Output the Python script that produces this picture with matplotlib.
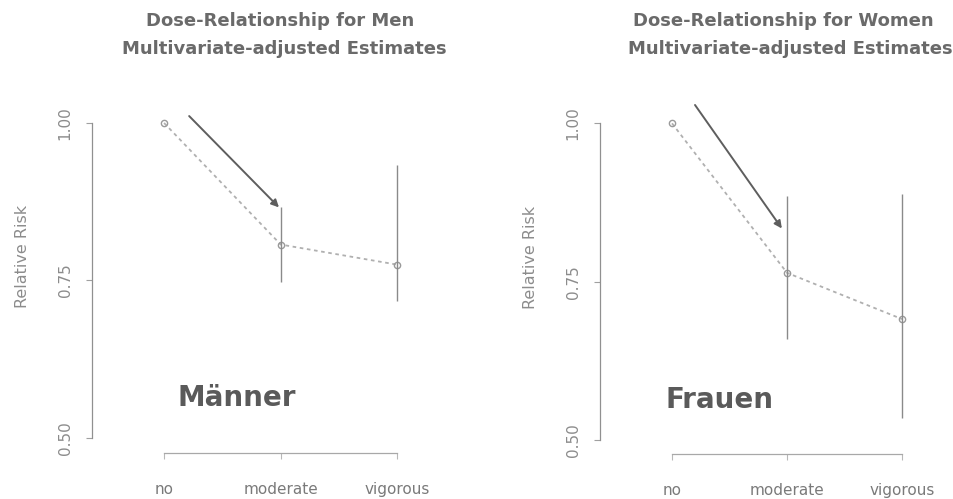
import numpy as np
import matplotlib.pyplot as plt

plt.rcParams['font.family'] = ['DejaVu Sans']

# Relative risk by activity level, multivariate-adjusted
levels = ["no", "moderate", "vigorous"]
x_pos = [1, 2, 3]

men_rr = [1.00, 0.807, 0.775]
men_lo = [np.nan, 0.747, 0.717]
men_hi = [np.nan, 0.866, 0.933]

women_rr = [1.00, 0.764, 0.691]
women_lo = [np.nan, 0.659, 0.535]
women_hi = [np.nan, 0.886, 0.888]

# arrow pointing at the upper limit of the moderate estimate
men_arrow = [(1.215, 1.011), (1.985, 0.866)]
women_arrow = [(1.20, 1.029), (1.955, 0.834)]

W, H = 954, 499
fig = plt.figure(figsize=(W / 100, H / 100), dpi=100)


def make_axes(px_left, px_top, px_right, px_bottom, xlim, ylim):
    ax = fig.add_axes([px_left / W, 1 - px_bottom / H,
                       (px_right - px_left) / W, (px_bottom - px_top) / H])
    ax.set_xlim(*xlim)
    ax.set_ylim(*ylim)
    return ax


def draw_panel(ax, rr, lo, hi, arrow, titles, title_xs, label, label_xy):
    grey = '#8a8a8a'
    ax.plot(x_pos, rr, linestyle=(0, (2, 2)), color='#b0b0b0', lw=1.3,
            marker='o', mfc='none', mec='#9a9a9a', ms=4.5, mew=1.0)
    for x, l, h in zip(x_pos, lo, hi):
        if not np.isnan(l):
            ax.vlines(x, l, h, color=grey, lw=1.0)
    ax.annotate('', xy=arrow[1], xytext=arrow[0],
                arrowprops=dict(arrowstyle='-|>', color='#5e5e5e', lw=1.4,
                                mutation_scale=11, shrinkA=0, shrinkB=0))

    for s in ['top', 'right']:
        ax.spines[s].set_visible(False)
    ax.spines['left'].set_bounds(0.5, 1.0)
    ax.spines['bottom'].set_bounds(1, 3)
    ax.spines['left'].set_color('#909090')
    ax.spines['bottom'].set_color('#a8a8a8')
    ax.spines['left'].set_linewidth(0.9)
    ax.spines['bottom'].set_linewidth(0.9)

    ax.set_yticks([0.5, 0.75, 1.0])
    ax.set_yticklabels(['0.50', '0.75', '1.00'], rotation=90, va='center')
    ax.set_xticks(x_pos)
    ax.set_xticklabels(levels)
    ax.tick_params(axis='y', colors='#a0a0a0', labelcolor='#8c8c8c',
                   labelsize=11, length=4, pad=10)
    ax.tick_params(axis='x', colors='#b8b8b8', labelcolor='#7a7a7a',
                   labelsize=11, length=4, pad=17)
    ax.set_ylabel('Relative Risk', color='#8c8c8c', fontsize=11.5, labelpad=20)

    ax.text(label_xy[0], label_xy[1], label, fontsize=20, fontweight='bold',
            color='#5a5a5a', ha='center', va='center')
    for t, tx, ty in zip(titles, title_xs, [21, 49]):
        fig.text(tx / W, 1 - ty / H, t, ha='center', va='center',
                 fontsize=13, fontweight='bold', color='#6a6a6a')


ax1 = make_axes(92, 60, 430, 453, (0.382, 3.28), (0.476, 1.10))
draw_panel(ax1, men_rr, men_lo, men_hi, men_arrow,
           ['Dose-Relationship for Men', 'Multivariate-adjusted Estimates'],
           [280, 284], 'Männer', (1.627, 0.564))

ax2 = make_axes(600, 60, 940, 454, (0.374, 3.33), (0.478, 1.10))
draw_panel(ax2, women_rr, women_lo, women_hi, women_arrow,
           ['Dose-Relationship for Women', 'Multivariate-adjusted Estimates'],
           [783, 790], 'Frauen', (1.41, 0.564))

fig.savefig('out.png', dpi=100, facecolor='white')
